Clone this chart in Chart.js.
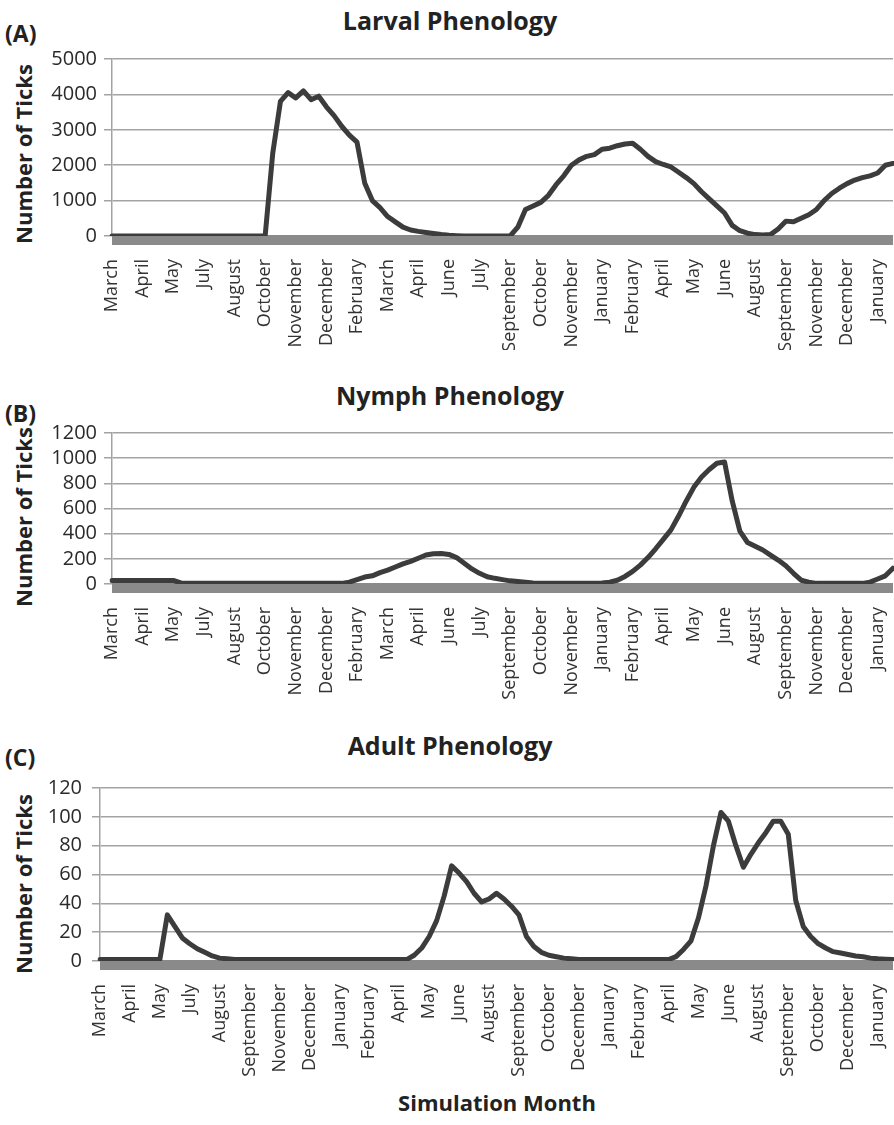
<!DOCTYPE html>
<html>
<head>
<meta charset="utf-8">
<script src="https://cdn.jsdelivr.net/npm/chart.js@4.4.1/dist/chart.umd.min.js"></script>
<style>
  html, body { margin: 0; padding: 0; background: #fff; }
  body { width: 894px; height: 1125px; position: relative; overflow: hidden; font-family: "Open Sans", sans-serif; color: #222; }
  canvas { position: absolute; left: 0; }
  .title { position: absolute; left: 150px; width: 600px; text-align: center; font-weight: bold; font-size: 25px; line-height: 25px; white-space: nowrap; }
  .tag { position: absolute; left: 5px; font-weight: bold; font-size: 23px; line-height: 23px; }
  .ytitle { position: absolute; font-weight: bold; font-size: 22px; line-height: 22px; white-space: nowrap; transform: translate(-50%, -50%) rotate(-90deg); }
  .xtitle { position: absolute; left: 197px; width: 600px; text-align: center; font-weight: bold; font-size: 22px; line-height: 22px; }
</style>
</head>
<body>
<div class="tag" style="top:22px">(A)</div>
<div class="title" style="top:8px">Larval Phenology</div>
<div class="ytitle" style="left:23px; top:154px">Number of Ticks</div>
<canvas id="larval" width="894" height="310" style="top:40px"></canvas>

<div class="tag" style="top:402px">(B)</div>
<div class="title" style="top:383px">Nymph Phenology</div>
<div class="ytitle" style="left:23px; top:517px">Number of Ticks</div>
<canvas id="nymph" width="894" height="310" style="top:400px"></canvas>

<div class="tag" style="top:746px">(C)</div>
<div class="title" style="top:733px">Adult Phenology</div>
<div class="ytitle" style="left:23px; top:884px">Number of Ticks</div>
<canvas id="adult" width="894" height="325" style="top:760px"></canvas>
<div class="xtitle" style="top:1091px">Simulation Month</div>

<script>
// one month label every 4 data points
const POINTS_PER_LABEL = 4;

const larvalMonths = ['March', 'April', 'May', 'July', 'August', 'October', 'November', 'December', 'February',
  'March', 'April', 'June', 'July', 'September', 'October', 'November', 'January', 'February',
  'April', 'May', 'June', 'August', 'September', 'November', 'December', 'January'];
const larvalCounts = [
  0, 0, 0, 0, 0, 0, 0, 0, 0, 0, 0, 0, 0, 0, 0, 0, 0, 0, 0, 0, 0,
  2350, 3800, 4050, 3900, 4100, 3850, 3950, 3650, 3400, 3100, 2850, 2650, 1500, 1000, 800, 550, 400, 250, 170, 130, 100, 70, 40, 20, 10,
  0, 0, 0, 0, 0, 0, 0,
  250, 750, 850, 950, 1150, 1450, 1700, 2000, 2150, 2250, 2300, 2450, 2480, 2550, 2600, 2620, 2450, 2250, 2100, 2020,
  1950, 1800, 1650, 1480, 1250, 1050, 850, 650, 300, 150, 80, 40, 30, 40, 200, 420, 400, 500, 600, 750,
  1000, 1200, 1350, 1480, 1580, 1650, 1700, 1780, 2000, 2050];

const nymphMonths = larvalMonths.slice();
const nymphCounts = [
  28, 28, 28, 28, 28, 28, 28, 28, 28, 8,
  5, 5, 5, 5, 5, 5, 5, 5, 5, 5, 5, 5, 5, 5, 5, 5, 5, 5, 5, 5, 5,
  15, 35, 55, 65, 90, 110, 135, 160, 180, 205, 230, 240, 242, 235, 210, 165, 120, 85, 58, 45, 35, 25, 20, 14, 8,
  5, 5, 5, 5, 5, 5, 5, 5,
  8, 15, 30, 60, 100, 150, 210, 280, 355, 430, 540, 660, 770, 850, 910, 960, 970, 660, 420, 330, 300, 270, 230, 190, 145, 85, 30, 15,
  5, 5, 5, 5, 5, 5, 5,
  15, 40, 65, 125];

const adultMonths = ['March', 'April', 'May', 'July', 'August', 'September', 'November', 'December', 'January',
  'February', 'April', 'May', 'June', 'August', 'September', 'October', 'December', 'January', 'February',
  'April', 'May', 'June', 'August', 'September', 'October', 'December', 'January'];
const adultCounts = [
  1, 1, 1, 1, 1, 1, 1, 1, 1,
  32, 24, 16, 12, 8.5, 6, 3.5, 2, 1.5,
  1, 1, 1, 1, 1, 1, 1, 1, 1, 1, 1, 1, 1, 1, 1, 1, 1, 1, 1, 1, 1, 1, 1, 1,
  4, 9, 17, 28, 45, 66, 61, 55, 47, 41, 43, 47, 43, 38, 32, 17, 10, 6, 4, 3, 2, 1.5,
  1, 1, 1, 1, 1, 1, 1, 1, 1, 1, 1, 1, 1,
  3, 8, 14, 30, 52, 80, 103, 97, 80, 65, 74, 82, 89, 97, 97, 88, 42, 24, 17, 12, 9, 6.5, 5.5, 4.5, 3.5, 3, 2, 1.5, 1.2, 1];

function buildLabels(months, n) {
  return Array.from({ length: n }, (_, i) =>
    i % POINTS_PER_LABEL === 0 ? (months[i / POINTS_PER_LABEL] || '') : '');
}

// thick grey category axis under the line
const axisBand = {
  id: 'axisBand',
  beforeDatasetsDraw(chart) {
    const { ctx, chartArea } = chart;
    ctx.save();
    ctx.fillStyle = '#8a8a8a';
    ctx.fillRect(chartArea.left, chartArea.bottom - 1, chartArea.right - chartArea.left, 10);
    ctx.restore();
  }
};

function makeChart(id, months, counts, o) {
  return new Chart(document.getElementById(id), {
    type: 'line',
    data: {
      labels: buildLabels(months, counts.length),
      datasets: [{
        data: counts,
        borderColor: '#3c3c3c',
        borderWidth: 5,
        pointRadius: 0,
        tension: 0,
        fill: false,
        borderJoinStyle: 'round',
        borderCapStyle: 'round'
      }]
    },
    options: {
      responsive: false,
      animation: false,
      devicePixelRatio: 1,
      layout: { padding: { top: o.padTop, right: 1, left: 0, bottom: 0 } },
      plugins: { legend: { display: false }, tooltip: { enabled: false } },
      scales: {
        x: {
          grid: { display: false },
          border: { display: false },
          ticks: {
            autoSkip: false, minRotation: 90, maxRotation: 90, padding: 15,
            color: '#333', font: { family: 'Open Sans', size: 18 }
          },
          afterFit(s) { s.height = o.xHeight; s.paddingLeft = 0; s.paddingRight = 0; }
        },
        y: {
          min: 0, max: o.yMax,
          ticks: {
            stepSize: o.yStep, autoSkip: false, padding: o.tickPad, color: '#2a2a2a',
            font: { family: 'Open Sans', size: 20 },
            callback: (v) => String(v)
          },
          grid: { color: '#a3a3a3', lineWidth: 1.5, tickLength: 8 },
          border: { display: true, color: '#a3a3a3', width: 1.5 },
          afterFit(s) { s.width = o.yWidth; }
        }
      }
    },
    plugins: [axisBand]
  });
}

// canvas height minus x-axis height puts the zero line at the reference position
makeChart('larval', larvalMonths, larvalCounts, { padTop: 18, xHeight: 114, yMax: 5000, yStep: 1000, yWidth: 112, tickPad: 7 });
makeChart('nymph', nymphMonths, nymphCounts, { padTop: 33, xHeight: 126, yMax: 1200, yStep: 200, yWidth: 112, tickPad: 7 });
makeChart('adult', adultMonths, adultCounts, { padTop: 28, xHeight: 124, yMax: 120, yStep: 20, yWidth: 100, tickPad: 10 });
</script>
</body>
</html>
